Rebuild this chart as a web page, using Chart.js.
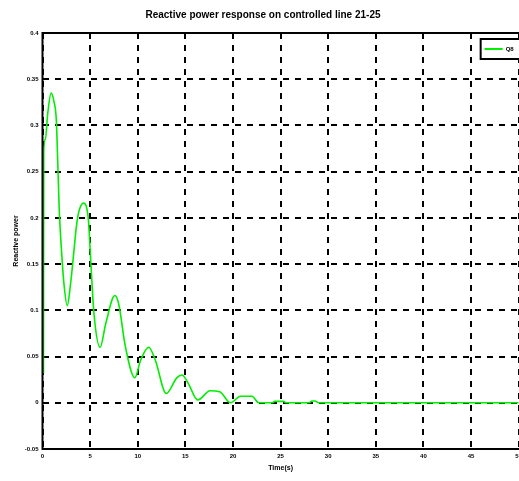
<!DOCTYPE html>
<html>
<head>
<meta charset="utf-8">
<script src="https://cdn.jsdelivr.net/npm/chart.js@4/dist/chart.umd.min.js"></script>
<style>
html,body{margin:0;padding:0;background:#fff;overflow:hidden;width:519px;height:481px;}
#wrap{position:absolute;left:0;top:0;width:526px;height:481px;}
canvas{filter:blur(0.4px);}
</style>
</head>
<body>
<div id="wrap"><canvas id="c" width="526" height="481"></canvas></div>
<script>
const titleText = "Reactive power response on controlled line 21-25";
const xTitle = "Time(s)";
const yTitle = "Reactive power";
const seriesLabel = "Q8";
const timeS = [0.1, 0.13, 0.3, 0.55, 0.9, 1.2, 1.45, 1.6, 1.75, 2.0, 2.25, 2.6, 2.95, 3.3, 3.55, 3.8, 4.3, 4.8, 5.1, 5.4, 6.05, 6.65, 7.6, 8.0, 8.7, 9.7, 10.3, 11.15, 11.85, 13.0, 14.1, 14.65, 15.3, 16.3, 17.6, 18.6, 19.75, 20.8, 22.0, 22.7, 24.1, 24.4, 25.3, 25.6, 28.0, 28.3, 28.6, 29.0, 50];
const reactivePower = [0.032, 0.272, 0.285, 0.313, 0.335, 0.326, 0.306, 0.261, 0.211, 0.164, 0.129, 0.105, 0.129, 0.164, 0.190, 0.206, 0.216, 0.200, 0.147, 0.097, 0.060, 0.086, 0.116, 0.107, 0.061, 0.027, 0.046, 0.060, 0.046, 0.010, 0.027, 0.030, 0.021, 0.003, 0.013, 0.012, 0.000, 0.007, 0.007, 0.000, 0.000, 0.0015, 0.0015, 0.000, 0.000, 0.002, 0.002, 0.000, 0.000];
const xTicks = [0, 5, 10, 15, 20, 25, 30, 35, 40, 45, 50];
const yTicks = [-0.05, 0, 0.05, 0.1, 0.15, 0.2, 0.25, 0.3, 0.35, 0.4];

const pts = timeS.map((t, i) => ({x: t, y: reactivePower[i]}));

const framePlugin = {
  id: 'frame',
  afterDraw(chart) {
    const {ctx, chartArea: a} = chart;
    ctx.save();
    ctx.strokeStyle = '#000';
    ctx.lineWidth = 2;
    ctx.beginPath();
    ctx.moveTo(a.right + 2, a.top);
    ctx.lineTo(a.left, a.top);
    ctx.lineTo(a.left, a.bottom);
    ctx.lineTo(a.right + 2, a.bottom);
    ctx.stroke();
    // legend box
    const bx = a.right - 38, by = a.top + 6, bw = 60, bh = 20;
    ctx.fillStyle = '#fff';
    ctx.fillRect(bx, by, bw, bh);
    ctx.lineWidth = 2;
    ctx.strokeRect(bx, by, bw, bh);
    ctx.strokeStyle = '#00ee00';
    ctx.lineWidth = 2;
    ctx.beginPath();
    ctx.moveTo(bx + 4, by + bh / 2);
    ctx.lineTo(bx + 22, by + bh / 2);
    ctx.stroke();
    ctx.fillStyle = '#000';
    ctx.font = 'bold 6px "Liberation Sans"';
    ctx.textBaseline = 'middle';
    ctx.fillText(chart.data.datasets[0].label, bx + 25, by + bh / 2);
    ctx.restore();
  }
};

new Chart(document.getElementById('c'), {
  type: 'line',
  data: {
    datasets: [{
      label: seriesLabel,
      data: pts,
      borderColor: '#00ee00',
      borderWidth: 1.6,
      pointRadius: 0,
      cubicInterpolationMode: 'monotone',
      fill: false
    }]
  },
  options: {
    responsive: false,
    animation: false,
    layout: {padding: {left: 0, right: 0, top: 0, bottom: 0}},
    plugins: {
      legend: {display: false},
      tooltip: {enabled: false},
      title: {
        display: true,
        text: titleText,
        color: '#000',
        font: {family: 'Liberation Sans', size: 10, weight: 'bold'},
        padding: {top: 9, bottom: 12}
      }
    },
    scales: {
      x: {
        type: 'linear',
        min: 0, max: 50,
        afterFit(s) { s.height = 32; },
        afterBuildTicks(s) { s.ticks = xTicks.map(v => ({value: v})); },
        grid: {color: '#000', lineWidth: 2, drawTicks: false},
        border: {display: false, dash: [6, 6]},
        ticks: {color: '#000', padding: 4, font: {family: 'Liberation Sans', size: 6, weight: 'bold'}, maxRotation: 0},
        title: {display: true, text: xTitle, color: '#000', font: {family: 'Liberation Sans', size: 7, weight: 'bold'}, padding: {top: 0, bottom: 9}}
      },
      y: {
        type: 'linear',
        min: -0.05, max: 0.4,
        afterFit(s) { s.width = 42.5; },
        afterBuildTicks(s) { s.ticks = yTicks.map(v => ({value: v})); },
        grid: {color: '#000', lineWidth: 2, drawTicks: false},
        border: {display: false, dash: [6, 6]},
        ticks: {color: '#000', padding: 4, font: {family: 'Liberation Sans', size: 6, weight: 'bold'},
          callback: v => String(parseFloat(v.toFixed(2)))},
        title: {display: true, text: yTitle, color: '#000', font: {family: 'Liberation Sans', size: 7, weight: 'bold'}, padding: {top: 12, bottom: 0}}
      }
    }
  },
  plugins: [framePlugin]
});
</script>
</body>
</html>
